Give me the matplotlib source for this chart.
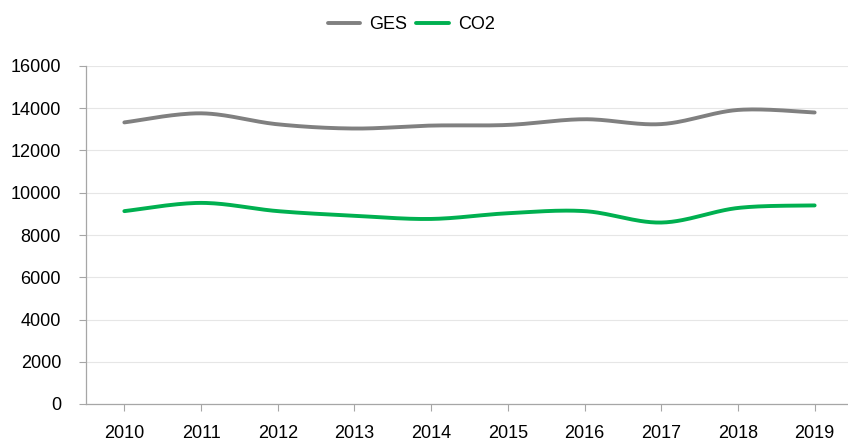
import matplotlib.pyplot as plt
import numpy as np

plt.rcParams["font.family"] = ["Liberation Sans", "DejaVu Sans"]

years = ["2010", "2011", "2012", "2013", "2014", "2015", "2016", "2017", "2018", "2019"]
ges = [13330, 13760, 13240, 13040, 13180, 13210, 13480, 13250, 13920, 13800]
co2 = [9130, 9520, 9130, 8910, 8760, 9030, 9130, 8590, 9280, 9400]


def smooth(x, y, n=30):
    # Excel-like smoothed line (Catmull-Rom style bezier)
    x = np.asarray(x, float)
    y = np.asarray(y, float)
    px = np.concatenate([[x[0]], x, [x[-1]]])
    py = np.concatenate([[y[0]], y, [y[-1]]])
    xs, ys = [], []
    t = np.linspace(0, 1, n)
    for i in range(1, len(px) - 2):
        p0 = np.array([px[i], py[i]])
        p3 = np.array([px[i + 1], py[i + 1]])
        c1 = p0 + (np.array([px[i + 1], py[i + 1]]) - np.array([px[i - 1], py[i - 1]])) / 6
        c2 = p3 - (np.array([px[i + 2], py[i + 2]]) - np.array([px[i], py[i]])) / 6
        b = ((1 - t) ** 3)[:, None] * p0 + (3 * (1 - t) ** 2 * t)[:, None] * c1 \
            + (3 * (1 - t) * t ** 2)[:, None] * c2 + (t ** 3)[:, None] * p3
        xs.extend(b[:, 0])
        ys.extend(b[:, 1])
    return xs, ys


fig = plt.figure(figsize=(8.48, 4.41), dpi=100)
ax = fig.add_axes([86 / 848, 37 / 441, 767 / 848, 338 / 441])

x = np.arange(len(years))
gx, gy = smooth(x, ges)
cx, cy = smooth(x, co2)
ax.plot(gx, gy, color="#808080", lw=2.8, label="GES", solid_capstyle="round")
ax.plot(cx, cy, color="#00B050", lw=2.8, label="CO2", solid_capstyle="round")

ax.set_xlim(-0.5, len(years) - 0.5)
ax.set_ylim(0, 16000)
ax.set_yticks(np.arange(0, 16001, 2000))
ax.set_xticks(x)
ax.set_xticklabels(years)
ax.grid(axis="y", color="#E6E6E6", lw=0.8)
ax.set_axisbelow(True)

for s in ["top", "right"]:
    ax.spines[s].set_visible(False)
for s in ["left", "bottom"]:
    ax.spines[s].set_color("#A6A6A6")
    ax.spines[s].set_linewidth(0.9)

ax.tick_params(axis="both", colors="#A6A6A6", labelcolor="black", labelsize=13, length=5)
ax.tick_params(axis="y", pad=13)
ax.tick_params(axis="x", pad=10)

fig.legend(loc="upper center", bbox_to_anchor=(0.485, 1.0), ncol=2, frameon=False,
           fontsize=13, handlelength=1.8, columnspacing=0.5, handletextpad=0.5)

fig.savefig("out.png", dpi=100)
